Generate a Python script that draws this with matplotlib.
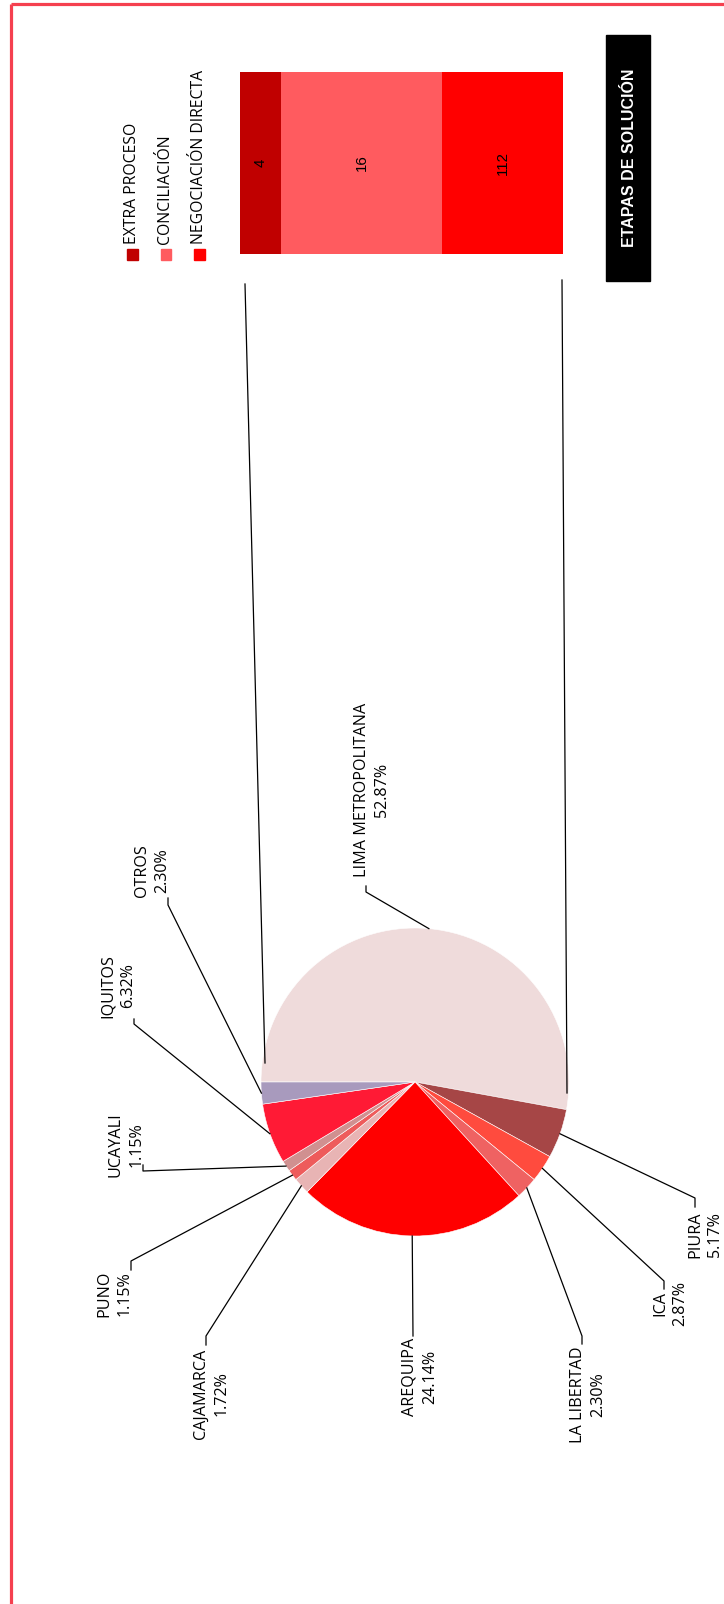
import matplotlib.pyplot as plt
import numpy as np
from matplotlib.patches import Rectangle


# datos
regiones = ['LIMA METROPOLITANA', 'PIURA', 'ICA', 'LA LIBERTAD', 'AREQUIPA',
            'CAJAMARCA', 'PUNO', 'UCAYALI', 'IQUITOS', 'OTROS']
casos = [92, 9, 5, 4, 42, 3, 2, 2, 11, 4]
colores = ['#EFDBDB', '#A64646', '#FF4B3E', '#EF6262', '#FF0000',
           '#E8B4B4', '#EE5B5B', '#D09090', '#FF1A35', '#A89ABD']

etapas = ['EXTRA PROCESO', 'CONCILIACIÓN', 'NEGOCIACIÓN DIRECTA']
etapas_n = [4, 16, 112]
etapas_ancho = [12.7, 49.8, 37.5]   # ancho de cada tramo en la barra
etapas_col = ['#C00000', '#FF5B5F', '#FF0000']

W, H = 724, 1604
cx, cy, r = 415, 1082, 154   # pie en pixeles

# posicion de etiquetas: centro del texto, codo, final del gancho
etiq = {
	'LIMA METROPOLITANA': ((372, 790), (366, 892), (366, 886)),
	'PIURA': ((705, 1235), (695, 1198), (695, 1207)),
	'ICA': ((670, 1304), (664, 1281), (664, 1289)),
	'LA LIBERTAD': ((588, 1395), (582, 1336), (582, 1344)),
	'AREQUIPA': ((420, 1377), (413, 1336), (413, 1336)),
	'CAJAMARCA': ((211, 1394), (206, 1336), (206, 1345)),
	'PUNO': ((114, 1294), (131, 1261), (131, 1270)),
	'UCAYALI': ((126, 1145), (143, 1171), (143, 1165)),
	'IQUITOS': ((118, 986), (134, 1024), (134, 1019)),
	'OTROS': ((152, 871), (168, 905), (168, 898)),
}

fig = plt.figure(figsize=(W / 100, H / 100), dpi=100)
fig.patch.set_facecolor('white')

# pie
axp = fig.add_axes([(cx - r) / W, 1 - (cy + r) / H, 2 * r / W, 2 * r / H])
wedges, _ = axp.pie(casos, colors=colores, startangle=180, counterclock=False,
                    radius=1, wedgeprops=dict(edgecolor='white', linewidth=0.4))
axp.set_xlim(-1, 1)
axp.set_ylim(-1, 1)
axp.axis('off')

# barra apilada
axb = fig.add_axes([240 / W, 1 - 254 / H, (563 - 240) / W, (254 - 72) / H])
izq = np.concatenate(([0], np.cumsum(etapas_ancho)[:-1]))
axb.barh(0, etapas_ancho, left=izq, height=1, color=etapas_col)
for x0, w, n in zip(izq, etapas_ancho, etapas_n):
	axb.text(x0 + w / 2, 0, str(n), rotation=90, ha='center', va='center',
	         fontsize=10.8, family='Liberation Sans')
axb.set_xlim(0, sum(etapas_ancho))
axb.set_ylim(-0.5, 0.5)
axb.axis('off')

# capa en pixeles para textos y lineas
ax = fig.add_axes([0, 0, 1, 1], zorder=5)
ax.set_xlim(0, W)
ax.set_ylim(H, 0)
ax.patch.set_alpha(0)
ax.axis('off')

# marco
ax.plot([11, W], [4, 4], color='#F5404F', lw=2.3, solid_capstyle='butt')
ax.plot([11, 11], [4, H], color='#F5404F', lw=2.3, solid_capstyle='butt')

# titulo
ax.add_patch(Rectangle((606, 35), 44, 246, color='black'))
ax.text(629, 158, 'ETAPAS DE SOLUCIÓN', rotation=90, ha='center', va='center',
        color='white', fontsize=11.5, fontweight='bold', family='Liberation Sans')

# leyenda
for xl, et, c in zip([132, 165.5, 199], etapas, etapas_col):
	ax.add_patch(Rectangle((xl - 5, 249), 10.5, 11, color=c))
	ax.text(xl, 244, et, rotation=90, ha='center', va='bottom',
	        fontsize=11.3, family='Open Sans')

# lineas de la barra al pie
ax.plot([245, 265], [284, 1063], color='black', lw=0.9)
ax.plot([562, 567], [280, 1093], color='black', lw=0.9)

# etiquetas del pie
total = sum(casos)
for w, reg, n in zip(wedges, regiones, casos):
	a = np.deg2rad((w.theta1 + w.theta2) / 2)
	px, py = cx + r * np.cos(a), cy - r * np.sin(a)
	(tx, ty), (ex, ey), (hx, hy) = etiq[reg]
	ax.plot([px, ex, hx], [py, ey, hy], color='black', lw=0.9)
	ax.text(tx, ty, f'{reg}\n{100 * n / total:.2f}%', rotation=90,
	        ha='center', va='center', multialignment='center',
	        fontsize=11.6, family='Open Sans', linespacing=1.35)

fig.savefig('out.png', dpi=100, facecolor='white')
